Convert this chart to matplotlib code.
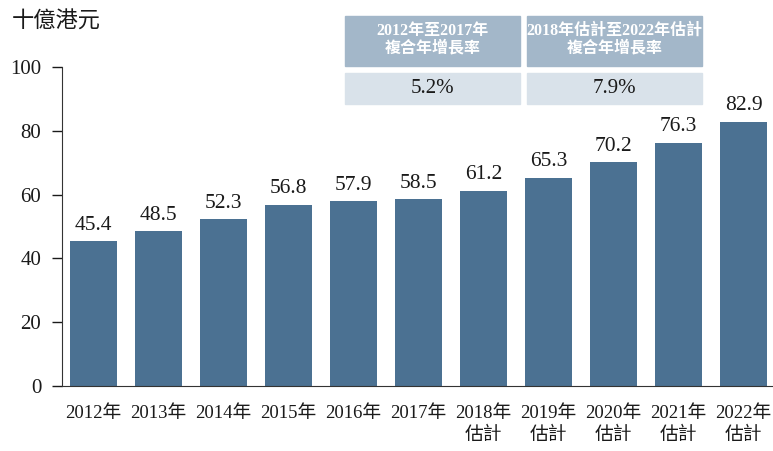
import matplotlib.pyplot as plt
from matplotlib.patches import Rectangle

years = ['2012年', '2013年', '2014年', '2015年', '2016年', '2017年',
         '2018年\n估計', '2019年\n估計', '2020年\n估計', '2021年\n估計', '2022年\n估計']
values = [45.4, 48.5, 52.3, 56.8, 57.9, 58.5, 61.2, 65.3, 70.2, 76.3, 82.9]
cagr_titles = ['2012年至2017年\n複合年增長率', '2018年估計至2022年估計\n複合年增長率']
cagr_values = ['5.2%', '7.9%']

fam = ['Liberation Serif', 'Noto Sans CJK TC']
plt.rcParams['font.family'] = fam

fig = plt.figure(figsize=(7.73, 4.51), dpi=100)
ax = fig.add_axes([62 / 773, 65 / 451, 711 / 773, 319 / 451])

x = range(len(values))
bars = ax.bar(x, values, width=0.72, color='#4b7192')
for xi, v in zip(x, values):
    ax.text(xi, v + 2.0, f'{v:.1f}', ha='center', va='bottom', fontsize=15.5, color='#1a1a1a')

ax.set_xlim(-0.48, 10.45)
ax.set_ylim(0, 100)
ax.set_yticks([0, 20, 40, 60, 80, 100])
ax.set_xticks(list(x))
ax.set_xticklabels(years, fontsize=13.5, linespacing=1.3)
ax.tick_params(axis='x', length=0, pad=14, colors='#1a1a1a')
ax.tick_params(axis='y', length=7, width=1, direction='out', labelsize=15, pad=8, colors='#1a1a1a')
for s in ['top', 'right']:
    ax.spines[s].set_visible(False)
ax.spines['left'].set_color('#333333')
ax.spines['bottom'].set_color('#333333')

fig.text(12 / 773, 1 - 22 / 451, '十億港元', fontsize=16, va='center', ha='left', color='#1a1a1a')

# CAGR boxes
boxes_x = [345, 527]
bw = 175
for bx, t, v in zip(boxes_x, cagr_titles, cagr_values):
    fig.patches.append(Rectangle((bx / 773, 1 - 66 / 451), bw / 773, 50 / 451,
                                 transform=fig.transFigure, color='#a3b7c9', zorder=0))
    fig.patches.append(Rectangle((bx / 773, 1 - 104 / 451), bw / 773, 31 / 451,
                                 transform=fig.transFigure, color='#d9e2ea', zorder=0))
    fig.text((bx + bw / 2) / 773, 1 - 40 / 451, t, ha='center', va='center',
             fontsize=11.5, color='white', fontweight='bold', linespacing=1.15)
    fig.text((bx + bw / 2) / 773, 1 - 89 / 451, v, ha='center', va='center',
             fontsize=15, color='#1a1a1a')

fig.savefig('out.png', dpi=100)
